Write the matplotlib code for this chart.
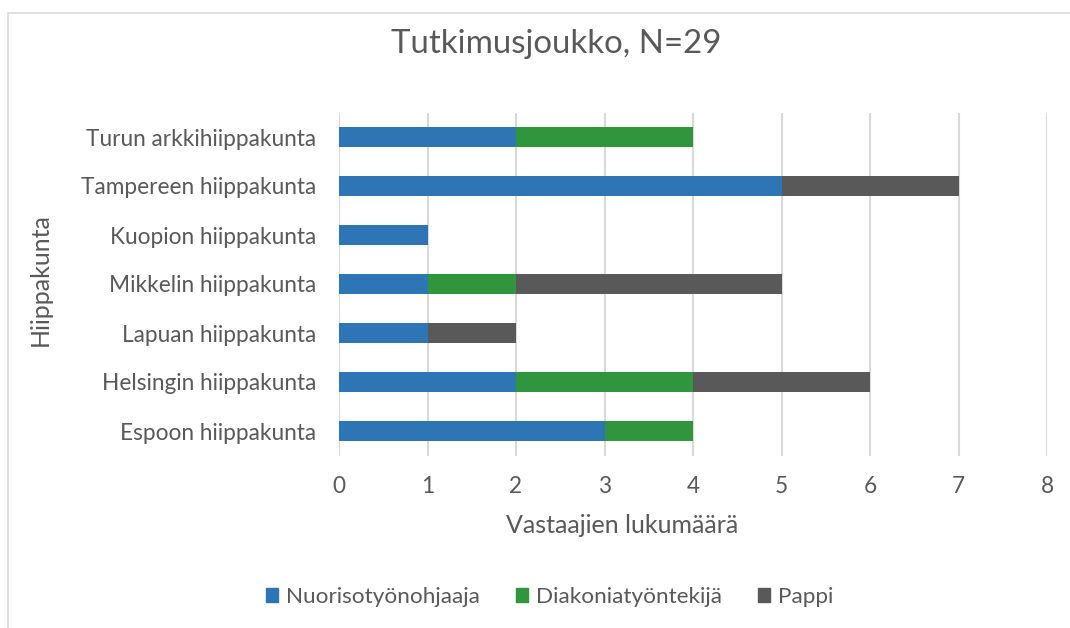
import numpy as np
import matplotlib.pyplot as plt
from matplotlib.patches import Rectangle

plt.rcParams['font.family'] = ['Lato', 'DejaVu Sans']

categories = ['Espoon hiippakunta', 'Helsingin hiippakunta', 'Lapuan hiippakunta',
              'Mikkelin hiippakunta', 'Kuopion hiippakunta', 'Tampereen hiippakunta',
              'Turun arkkihiippakunta']
nuoriso = [3, 2, 1, 1, 1, 5, 2]
diakonia = [1, 2, 0, 1, 0, 0, 2]
pappi = [0, 2, 1, 3, 0, 2, 0]
series_names = ['Nuorisotyönohjaaja', 'Diakoniatyöntekijä', 'Pappi']
colors = ['#2E75B6', '#2F963D', '#595959']
txt = '#595959'

W, H = 1070, 628
fig = plt.figure(figsize=(W / 100, H / 100), dpi=100)
ax = fig.add_axes([339 / W, 1 - 455.5 / H, (1047 - 339) / W, (455.5 - 112.5) / H])

y = np.arange(len(categories))
left = np.zeros(len(categories))
for vals, name, c in zip([nuoriso, diakonia, pappi], series_names, colors):
    ax.barh(y, vals, left=left, height=0.4, color=c, label=name, zorder=3)
    left += np.array(vals)

ax.set_xlim(0, 8)
ax.set_ylim(-0.5, len(categories) - 0.5)
ax.set_xticks(range(9))
ax.set_yticks(y)
ax.set_yticklabels(categories)
ax.grid(axis='x', color='#D9D9D9', linewidth=1.5, zorder=0)
for s in ax.spines.values():
    s.set_visible(False)
ax.tick_params(length=0, labelsize=16.3, colors=txt)
ax.tick_params(axis='y', pad=16.5)
ax.tick_params(axis='x', pad=15)

# axis titles and chart title
fig.text(622 / W, 1 - 533 / H, 'Vastaajien lukumäärä', ha='center', va='baseline',
         fontsize=18, color=txt)
fig.text(40 / W, 1 - 280 / H, 'Hiippakunta', ha='center', va='center',
         rotation=90, fontsize=18, color=txt)
fig.text(556 / W, 1 - 53 / H, 'Tutkimusjoukko, N=29', ha='center', va='baseline',
         fontsize=23.8, color=txt)

handles = [Rectangle((0, 0), 1, 1, color=c) for c in colors]
fig.legend(handles, series_names, loc='center', bbox_to_anchor=(550 / W, 1 - 597 / H),
           ncol=3, frameon=False, fontsize=16.2, handlelength=0.53, handleheight=0.53,
           handletextpad=0.36, columnspacing=1.6, labelcolor=txt,
           borderpad=0, borderaxespad=0)

fig.add_artist(Rectangle((8 / W, -0.1), 1.2, 1 - 13 / H + 0.1,
                         transform=fig.transFigure, fill=False,
                         edgecolor='#D9D9D9', linewidth=1.2))

fig.savefig('out.png', dpi=100)
